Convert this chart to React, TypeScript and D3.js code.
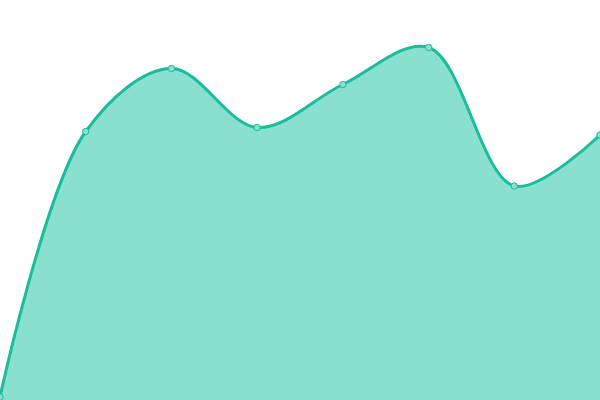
import * as d3 from "d3";

const W = 600;
const H = 400;

// one series, eight evenly spaced points
const labels = ["1", "2", "3", "4", "5", "6", "7", "8"];
const values = [3, 268.5, 331.5, 272.5, 315.5, 352.5, 214, 265];

const lineColor = "#1abc9c";
const areaColor = "#8ae0cf";

const App = () => {
  const x = d3.scalePoint().domain(labels).range([0, W]);
  const y = d3.scaleLinear().domain([0, 400]).range([H, 0]);

  const pts = labels.map((l, i) => ({ label: l, value: values[i] }));

  const area = d3
    .area<{ label: string; value: number }>()
    .x((d) => x(d.label) ?? 0)
    .y0(H)
    .y1((d) => y(d.value))
    .curve(d3.curveCatmullRom.alpha(0.5));

  const line = d3
    .line<{ label: string; value: number }>()
    .x((d) => x(d.label) ?? 0)
    .y((d) => y(d.value))
    .curve(d3.curveCatmullRom.alpha(0.5));

  return (
    <svg
      width={W}
      height={H}
      style={{ position: "absolute", left: 0, top: 0, display: "block" }}
    >
      <path d={area(pts) ?? ""} fill={areaColor} />
      <path d={line(pts) ?? ""} fill="none" stroke={lineColor} strokeWidth={3} />
      {pts.map((d) => (
        <circle
          key={d.label}
          cx={x(d.label)}
          cy={y(d.value)}
          r={3.2}
          fill={areaColor}
          stroke={lineColor}
          strokeWidth={1}
        />
      ))}
    </svg>
  );
};

export default App;
